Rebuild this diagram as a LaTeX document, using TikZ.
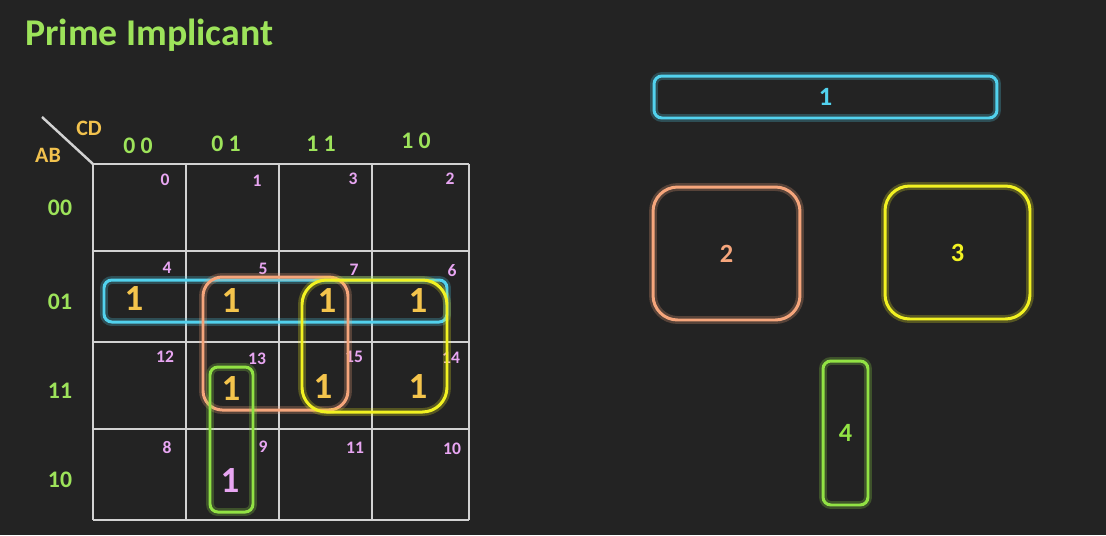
\documentclass[tikz,border=0pt]{standalone}
\usepackage{fontspec}
\setmainfont{Carlito}
\definecolor{bgcol}{HTML}{232323}
\definecolor{gridcol}{HTML}{D2D2D2}
\definecolor{headgreen}{HTML}{9DE35A}
\definecolor{headorange}{HTML}{F2C24E}
\definecolor{pinknum}{HTML}{E8A6F2}
\definecolor{onecol}{HTML}{F4C44C}
\definecolor{cyanpi}{HTML}{52D2EE}
\definecolor{orangepi}{HTML}{F6A67C}
\definecolor{yellowpi}{HTML}{F2F222}
\definecolor{greenpi}{HTML}{92E244}
\tikzset{
  kgrid/.style={draw=gridcol, line width=1.4pt},
  cellnum/.style={text=pinknum, font=\bfseries\fontsize{10}{11}\selectfont},
  minterm/.style={text=onecol, font=\bfseries\fontsize{21}{23}\selectfont},
  header/.style={text=headgreen, font=\bfseries\fontsize{13.5}{15}\selectfont},
  glowloop/.style={draw=#1, line width=1.7pt,
    preaction={draw=#1, line width=4.5pt, opacity=0.25}},
  pibox/.style={glowloop=#1, text=#1, inner sep=0pt,
    font=\bfseries\fontsize{15}{17}\selectfont}
}
\begin{document}
\begin{tikzpicture}[x=0.02cm,y=-0.02cm]
    \fill[bgcol] (0,0) rectangle (1106,535);
    \useasboundingbox (0,0) rectangle (1106,535);
    \node[anchor=west, text=headgreen, font=\bfseries\fontsize{21.5}{24}\selectfont] (title) at (19,35) {Prime Implicant};
    % map grid
    \foreach \x in {93,186,279,372,469}
    \draw[kgrid] (\x,164) -- (\x,520);
    \foreach \y in {164,251,342,429,520}
    \draw[kgrid] (93,\y) -- (469,\y);
    \draw[kgrid] (42,117) -- (93,164);
    \node[text=headorange, font=\bfseries\fontsize{12.5}{14}\selectfont] (cd) at (89,128) {CD};
    \node[text=headorange, font=\bfseries\fontsize{12.5}{14}\selectfont] (ab) at (48,155) {AB};
    \foreach \n/\t/\x/\y in {00/0 0/138/146,01/0 1/226/144,11/1 1/321/144,10/1 0/416/141}
    \node[header] (col\n) at (\x,\y) {\t};
    \foreach \n/\y in {00/208,01/302,11/391,10/480}
    \node[header] (row\n) at (60,\y) {\n};
    \foreach \n/\x/\y in {0/165/180,1/257/181,3/353/179,2/450/179,
      4/167/268,5/263/269,7/354/270,6/452/271,
      12/165/357,13/257/359,15/354/357,14/451/358,
      8/167/447,9/263/447,11/355/448,10/452/449}
    \node[cellnum] (m\n) at (\x,\y) {\n};
    % ones
    \foreach \n/\x/\y in {4/134/299,5/231/301,7/327/301,6/418/301,13/231/389,15/323/387,14/418/387}
    \node[minterm] (one\n) at (\x,\y) {1};
    \node[minterm, text=pinknum] (one9) at (230,481) {1};
    % loops on the map
    \draw[glowloop=cyanpi, rounded corners=4.5pt] (104,280) rectangle (447,322);
    \draw[glowloop=orangepi, rounded corners=11pt] (203,277) rectangle (348,410);
    \draw[glowloop=yellowpi, rounded corners=14pt] (302,280) rectangle (447,412);
    \draw[glowloop=greenpi, rounded corners=4.5pt] (210,367) rectangle (253,512);
    % prime implicants
    \node[pibox=cyanpi, rounded corners=4.5pt, minimum width=6.86cm, minimum height=0.84cm] (pi1) at (825.5,97) {1};
    \node[pibox=orangepi, rounded corners=14pt, minimum width=2.94cm, minimum height=2.66cm] (pi2) at (726.5,253.5) {2};
    \node[pibox=yellowpi, rounded corners=14pt, minimum width=2.9cm, minimum height=2.66cm] (pi3) at (957.5,252.5) {3};
    \node[pibox=greenpi, rounded corners=4.5pt, minimum width=0.9cm, minimum height=2.88cm] (pi4) at (845.5,433) {4};
\end{tikzpicture}
\end{document}
